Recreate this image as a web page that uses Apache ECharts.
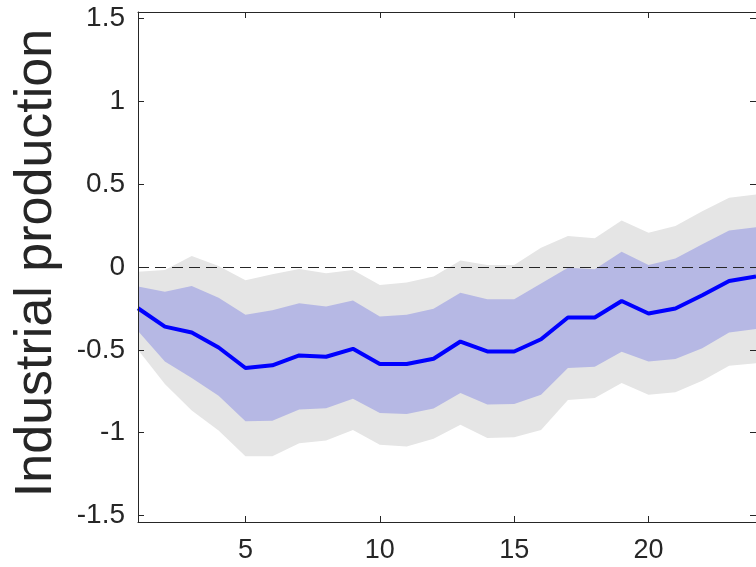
<!DOCTYPE html>
<html>
<head>
<meta charset="utf-8">
<script src="https://cdn.jsdelivr.net/npm/echarts@6/dist/echarts.min.js"></script>
<style>
html,body{margin:0;padding:0;background:#fff;}
#chart{width:756px;height:567px;}
</style>
</head>
<body>
<div id="chart"></div>
<script>
// Horizon (periods)
var horizon = [1,2,3,4,5,6,7,8,9,10,11,12,13,14,15,16,17,18,19,20,21,22,23,24];
// Median impulse response
var median = [-0.249,-0.36,-0.396,-0.486,-0.61,-0.594,-0.534,-0.542,-0.494,-0.586,-0.586,-0.554,
              -0.45,-0.51,-0.51,-0.436,-0.305,-0.305,-0.205,-0.281,-0.251,-0.171,-0.084,-0.057];
// Inner (blue) band
var innerUpper = [-0.118,-0.149,-0.114,-0.185,-0.289,-0.261,-0.219,-0.239,-0.203,-0.299,-0.289,-0.252,
                  -0.155,-0.195,-0.195,-0.1,-0.004,-0.014,0.092,0.012,0.052,0.137,0.221,0.24];
var innerLower = [-0.386,-0.57,-0.671,-0.777,-0.932,-0.928,-0.861,-0.853,-0.795,-0.882,-0.888,-0.854,
                  -0.761,-0.831,-0.827,-0.771,-0.61,-0.602,-0.512,-0.57,-0.556,-0.49,-0.396,-0.375];
// Outer (grey) band
var outerUpper = [-0.028,-0.018,0.066,0.006,-0.08,-0.044,-0.012,-0.038,-0.018,-0.108,-0.094,-0.058,
                  0.04,0.012,0.012,0.116,0.187,0.173,0.281,0.207,0.247,0.337,0.418,0.438];
var outerLower = [-0.5,-0.707,-0.867,-0.988,-1.143,-1.143,-1.064,-1.048,-0.984,-1.074,-1.084,-1.037,
                  -0.952,-1.032,-1.028,-0.984,-0.803,-0.791,-0.701,-0.771,-0.757,-0.687,-0.596,-0.582];
// Tick labels
var yTicks = [-1.5,-1,-0.5,0,0.5,1,1.5];
var xTicks = [5,10,15,20];
var yLabel = 'Industrial production';

function pairs(vals){ return horizon.map(function(h,i){ return [h, vals[i]]; }); }

var axisColor = '#262626';
var font = '"Liberation Sans", Arial, Helvetica, sans-serif';

function bandSeries(upper, lower, color, z){
  return {
    type: 'custom', silent: true, z: z, clip: true,
    data: [[horizon[0], upper[0]]],
    encode: { x: 0, y: 1 },
    renderItem: function(params, api){
      var pts = [];
      for (var i = 0; i < horizon.length; i++) pts.push(api.coord([horizon[i], upper[i]]));
      for (var j = horizon.length - 1; j >= 0; j--) pts.push(api.coord([horizon[j], lower[j]]));
      return { type: 'polygon', shape: { points: pts }, style: { fill: color, stroke: null } };
    }
  };
}

var chart = echarts.init(document.getElementById('chart'), null, {renderer:'canvas'});
chart.setOption({
  animation: false,
  backgroundColor: '#ffffff',
  grid: { left: 138, top: 12, width: 621, height: 510, containLabel: false },
  xAxis: [{
    type: 'value', min: 1, max: 24, position: 'bottom',
    axisLine: { show: true, onZero: false, lineStyle: { color: axisColor, width: 1 } },
    axisTick: { show: true, inside: true, length: 6, customValues: xTicks, lineStyle: { color: axisColor } },
    axisLabel: { show: true, customValues: xTicks, margin: 15, color: axisColor, fontSize: 27, fontFamily: font },
    splitLine: { show: false }, z: 10
  },{
    type: 'value', min: 1, max: 24, position: 'top',
    axisLine: { show: true, onZero: false, lineStyle: { color: axisColor, width: 1 } },
    axisTick: { show: true, inside: true, length: 6, customValues: xTicks, lineStyle: { color: axisColor } },
    axisLabel: { show: false },
    splitLine: { show: false }, z: 10
  }],
  yAxis: [{
    type: 'value', min: -1.54, max: 1.54, position: 'left',
    axisLine: { show: true, onZero: false, lineStyle: { color: axisColor, width: 1 } },
    axisTick: { show: true, inside: true, length: 6, customValues: yTicks, lineStyle: { color: axisColor } },
    axisLabel: { show: true, customValues: yTicks, margin: 13, color: axisColor, fontSize: 28, fontFamily: font,
                 formatter: function(v){ return String(v); } },
    splitLine: { show: false }, z: 10
  },{
    type: 'value', min: -1.54, max: 1.54, position: 'right',
    axisLine: { show: true, onZero: false, lineStyle: { color: axisColor, width: 1 } },
    axisTick: { show: true, inside: true, length: 6, customValues: yTicks, lineStyle: { color: axisColor } },
    axisLabel: { show: false },
    splitLine: { show: false }, z: 10
  }],
  graphic: [{
    type: 'text', x: 37, y: 263, rotation: Math.PI/2,
    style: { text: yLabel, font: '52px ' + font, fill: axisColor, textAlign: 'center', textVerticalAlign: 'middle' }
  }],
  series: [
    bandSeries(outerUpper, outerLower, '#e5e5e5', 1),
    bandSeries(innerUpper, innerLower, '#b6b8e4', 2),
    { type: 'line', data: pairs(median), symbol: 'none', z: 4,
      lineStyle: { color: '#0000ff', width: 4 },
      markLine: { silent: true, symbol: ['none','none'], label: { show: false },
        lineStyle: { color: axisColor, type: [11,6], width: 1.2 },
        data: [{ yAxis: 0 }] } }
  ]
});
</script>
</body>
</html>
